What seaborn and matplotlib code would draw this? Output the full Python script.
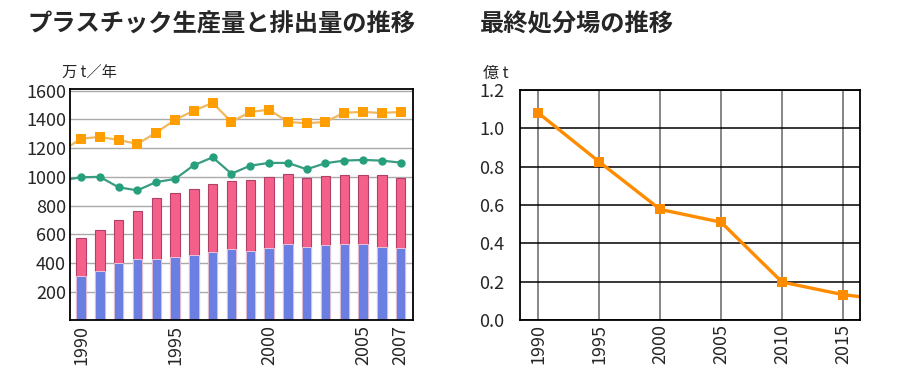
import numpy as np
import pandas as pd
import seaborn as sns
import matplotlib.pyplot as plt

# left chart: plastics (万t/年)
years = list(range(1990, 2008))
total = [572, 630, 700, 765, 855, 890, 918, 953, 974, 981, 997, 1020, 990, 1006, 1011, 1011, 1011, 994]
bottom = [311, 346, 398, 426, 428, 444, 456, 479, 500, 486, 507, 530, 509, 525, 530, 530, 512, 507]
line_years = list(range(1989, 2008))
green = [976, 997, 1000, 927, 906, 964, 985, 1081, 1136, 1022, 1078, 1097, 1097, 1053, 1095, 1113, 1118, 1113, 1099]
orange = [1180, 1266, 1278, 1257, 1229, 1308, 1397, 1461, 1515, 1383, 1452, 1468, 1383, 1373, 1383, 1447, 1452, 1445, 1452]
left_ticks = [1990, 1995, 2000, 2005, 2007]

# right chart: final disposal (億t)
disp_years = [1990, 1995, 2000, 2005, 2010, 2015, 2017]
disposal = [1.08, 0.825, 0.577, 0.51, 0.198, 0.132, 0.117]
right_ticks = [1990, 1995, 2000, 2005, 2010, 2015]

sns.set_style("white")
plt.rcParams['font.family'] = ['Noto Sans CJK JP', 'DejaVu Sans']

fig = plt.figure(figsize=(9, 3.79), dpi=100)
ax1 = fig.add_axes([0.0781, 0.1546, 0.3811, 0.6106])
ax2 = fig.add_axes([0.5778, 0.1557, 0.3778, 0.6069])

df = pd.DataFrame({"year": years, "total": total, "bottom": bottom})
ax1.yaxis.grid(True, color="#aaaaaa", lw=1)
ax1.set_axisbelow(True)
sns.barplot(data=df, x="year", y="total", native_scale=True, width=0.5,
            color="#f5608a", edgecolor="#b04068", linewidth=0.8, saturation=1, ax=ax1)
sns.barplot(data=df, x="year", y="bottom", native_scale=True, width=0.5,
            color="#6b7fe3", edgecolor="#f0d0e0", linewidth=0.6, saturation=1, ax=ax1)
ldf = pd.DataFrame({"year": line_years, "green": green, "orange": orange})
sns.lineplot(data=ldf, x="year", y="green", color="#3a9c80", lw=1.6,
             marker="o", markersize=6, markeredgewidth=0, markerfacecolor="#26a07c", ax=ax1)
sns.lineplot(data=ldf, x="year", y="orange", color="#f2b860", lw=1.6,
             marker="s", markersize=7.5, markeredgewidth=0, markerfacecolor="#ff9e00", ax=ax1)
ax1.set_xlim(1989.43, 2007.67)
ax1.set_ylim(0, 1612)
ax1.set_yticks(range(200, 1601, 200))
ax1.set_xticks(left_ticks)
ax1.set_xticklabels([str(y) for y in left_ticks], rotation=90)
ax1.set_xlabel("")
ax1.set_ylabel("")
ax1.tick_params(labelsize=13, length=0, pad=3)
for s in ax1.spines.values():
    s.set_color("black")
    s.set_linewidth(1.3)

ddf = pd.DataFrame({"year": disp_years, "v": disposal})
ax2.grid(True, axis="y", color="black", lw=1.1)
ax2.grid(True, axis="x", color="#666666", lw=1.1)
ax2.set_axisbelow(True)
sns.lineplot(data=ddf, x="year", y="v", color="#ff8c00", lw=2.4,
             marker="s", markersize=7, markeredgewidth=0, ax=ax2)
ax2.set_xlim(1988.5, 2016.4)
ax2.set_ylim(0, 1.2)
ax2.set_yticks(np.arange(0, 1.21, 0.2))
ax2.set_yticklabels([f"{v:.1f}" for v in np.arange(0, 1.21, 0.2)])
ax2.set_xticks(right_ticks)
ax2.set_xticklabels([str(y) for y in right_ticks], rotation=90)
ax2.set_xlabel("")
ax2.set_ylabel("")
ax2.tick_params(labelsize=13, length=0, pad=3)
ax2.tick_params(axis="y", pad=11)
for s in ax2.spines.values():
    s.set_color("black")
    s.set_linewidth(1.3)

fig.text(0.031, 0.935, "プラスチック生産量と排出量の推移", fontsize=17.5, fontweight="bold", va="center")
fig.text(0.533, 0.935, "最終処分場の推移", fontsize=17.5, fontweight="bold", va="center")
fig.text(0.069, 0.807, "万 t／年", fontsize=11, va="center")
fig.text(0.537, 0.807, "億 t", fontsize=11.5, va="center")

fig.savefig("out.png", dpi=100)
